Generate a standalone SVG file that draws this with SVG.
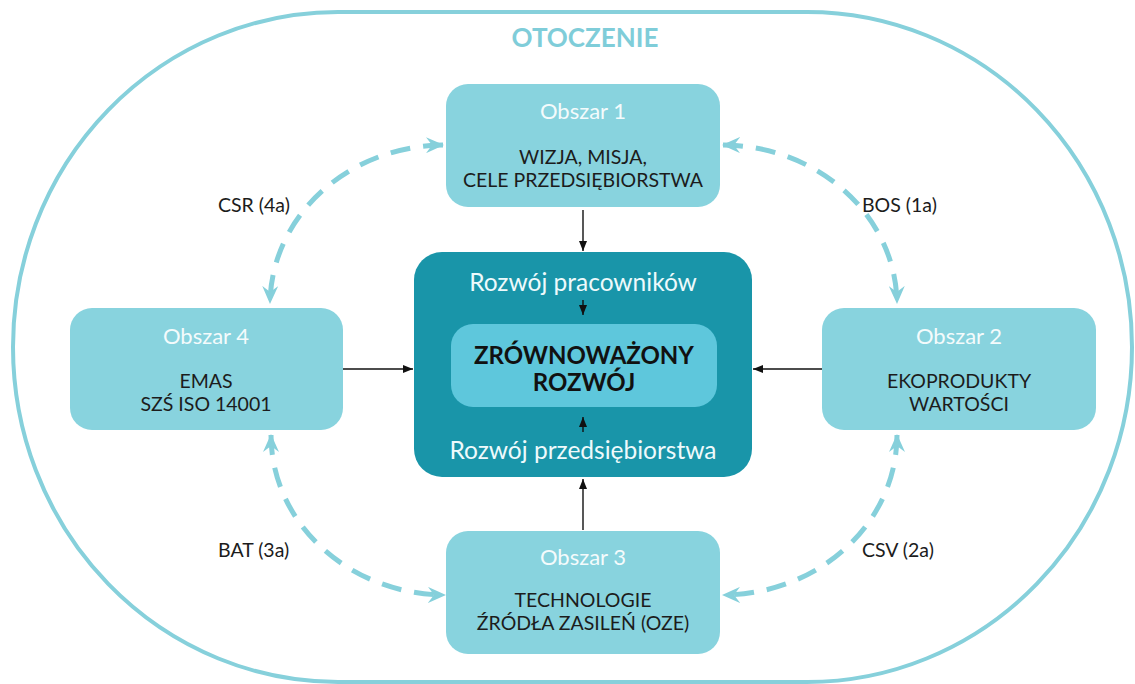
<svg xmlns="http://www.w3.org/2000/svg" width="1135" height="684" viewBox="0 0 1135 684">
  <defs>
    <style>
      .area { fill: #88d3de; }
      .title { font-family: Lato, "Liberation Sans", sans-serif; font-size: 22px; fill: #f4fbfc; text-anchor: middle; }
      .body { font-family: Lato, "Liberation Sans", sans-serif; font-size: 19.5px; fill: #1c1c1c; text-anchor: middle; }
      .label { font-family: Lato, "Liberation Sans", sans-serif; font-size: 19.5px; fill: #1c1c1c; }
      .core-text { font-family: Lato, "Liberation Sans", sans-serif; font-size: 24.5px; fill: #eefafc; text-anchor: middle; }
      .core-title { font-family: Lato, "Liberation Sans", sans-serif; font-size: 24px; font-weight: bold; fill: #111; text-anchor: middle; }
      .flow { fill: none; stroke: #86d0db; stroke-width: 5; stroke-dasharray: 20 13; }
      .link { fill: none; stroke: #111; stroke-width: 1.4; }
    </style>
    <marker id="chev" viewBox="0 0 18 16" refX="17" refY="8" markerWidth="18" markerHeight="16" markerUnits="userSpaceOnUse" orient="auto-start-reverse">
      <path d="M0,0 L18,8 L0,16 L6,8 z" fill="#86d0db"/>
    </marker>
    <marker id="tip" viewBox="0 0 10 8" refX="10" refY="4" markerWidth="10" markerHeight="8" markerUnits="userSpaceOnUse" orient="auto">
      <path d="M0,0 L10,4 L0,8 z" fill="#111"/>
    </marker>
  </defs>

  <rect width="1135" height="684" fill="#ffffff"/>

  <!-- surrounding environment -->
  <g id="otoczenie">
    <rect x="13" y="12" width="1119" height="670" rx="325" ry="335" fill="none" stroke="#86d0db" stroke-width="4"/>
    <text x="585" y="47" font-family="Lato, 'Liberation Sans', sans-serif" font-size="26" font-weight="bold" fill="#7fcdd9" text-anchor="middle">OTOCZENIE</text>
  </g>

  <!-- connectors -->
  <g id="connectors">
    <path class="flow" d="M443,145 A175,160 0 0 0 270,303" marker-start="url(#chev)" marker-end="url(#chev)"/>
    <path class="flow" d="M723,145 A175,160 0 0 1 897,303" marker-start="url(#chev)" marker-end="url(#chev)"/>
    <path class="flow" d="M897,435 A175,160 0 0 1 723,595" marker-start="url(#chev)" marker-end="url(#chev)"/>
    <path class="flow" d="M271,435 A175,160 0 0 0 445,595" marker-start="url(#chev)" marker-end="url(#chev)"/>

    <line class="link" x1="583" y1="210" x2="583" y2="251" marker-end="url(#tip)"/>
    <line class="link" x1="343" y1="369" x2="413" y2="369" marker-end="url(#tip)"/>
    <line class="link" x1="822" y1="369" x2="753" y2="369" marker-end="url(#tip)"/>
    <line class="link" x1="583" y1="530" x2="583" y2="479" marker-end="url(#tip)"/>

    <text class="label" x="218" y="212">CSR (4a)</text>
    <text class="label" x="862" y="212">BOS (1a)</text>
    <text class="label" x="218" y="557">BAT (3a)</text>
    <text class="label" x="862" y="557">CSV (2a)</text>
  </g>

  <g id="obszar1">
    <rect class="area" x="446" y="84" width="274" height="123" rx="22"/>
    <text class="title" x="583" y="119">Obszar 1</text>
    <text class="body" x="583" y="164">WIZJA, MISJA,</text>
    <text class="body" x="583" y="187">CELE PRZEDSIĘBIORSTWA</text>
  </g>

  <g id="obszar4">
    <rect class="area" x="70" y="308" width="273" height="122" rx="22"/>
    <text class="title" x="206" y="344">Obszar 4</text>
    <text class="body" x="206" y="388">EMAS</text>
    <text class="body" x="206" y="411">SZŚ ISO 14001</text>
  </g>

  <g id="obszar2">
    <rect class="area" x="822" y="308" width="274" height="122" rx="22"/>
    <text class="title" x="959" y="344">Obszar 2</text>
    <text class="body" x="959" y="388">EKOPRODUKTY</text>
    <text class="body" x="959" y="411">WARTOŚCI</text>
  </g>

  <g id="obszar3">
    <rect class="area" x="446" y="531" width="274" height="123" rx="22"/>
    <text class="title" x="583" y="565">Obszar 3</text>
    <text class="body" x="583" y="607">TECHNOLOGIE</text>
    <text class="body" x="583" y="630">ŹRÓDŁA ZASILEŃ (OZE)</text>
  </g>

  <g id="rozwoj">
    <rect x="414" y="252" width="338" height="225" rx="28" fill="#1995a9"/>
    <text class="core-text" x="583" y="291">Rozwój pracowników</text>
    <line class="link" x1="583" y1="300" x2="583" y2="315" marker-end="url(#tip)"/>
    <rect x="451" y="324" width="266" height="83" rx="22" fill="#5ec7dc"/>
    <text class="core-title" x="584" y="364">ZRÓWNOWAŻONY</text>
    <text class="core-title" x="584" y="391">ROZWÓJ</text>
    <line class="link" x1="583" y1="432" x2="583" y2="417" marker-end="url(#tip)"/>
    <text class="core-text" x="583" y="459">Rozwój przedsiębiorstwa</text>
  </g>
</svg>
